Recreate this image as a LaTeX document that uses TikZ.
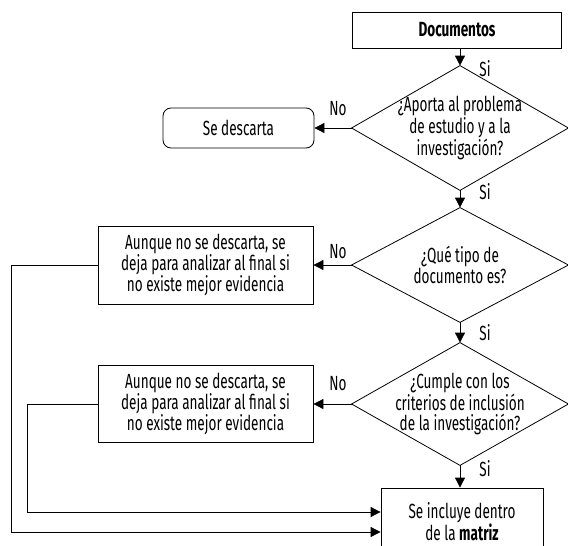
\documentclass[tikz,border=0pt]{standalone}
\usepackage{fontspec}
\setmainfont{Fira Sans}[FakeStretch=0.66]
\usepackage{tikz}
\usetikzlibrary{arrows.meta}
\tikzstyle{arrow} = [-{Triangle[length=10pt,width=10pt]}]
\tikzstyle{block} = [draw, rectangle, align=center, inner sep=0pt]
\tikzstyle{decision} = [rectangle, align=center, inner sep=0pt, minimum width=216pt]
\tikzstyle{lbl} = [inner sep=0pt]

\begin{document}
\begin{tikzpicture}[x=1pt, y=-1pt, line width=0.8pt, font=\fontsize{20.5}{19.5}\selectfont]
	\useasboundingbox (0,0) rectangle (568,546);
	\clip (0,0) rectangle (568,546);

	\node (doc) [block, minimum width=209pt, minimum height=36pt] at (457,30) {\textbf{Documentos}};
	\node (d1) [decision, minimum height=124pt, below of=doc, node distance=98pt, xshift=3pt] {¿Aporta al problema\\de estudio y a la\\investigación?};
	\node (desc) [block, rounded corners=8pt, minimum width=151pt, minimum height=40pt, left of=d1, node distance=221.5pt] {Se descarta};
	\node (d2) [decision, minimum height=114pt, below of=d1, node distance=137pt] {¿Qué tipo de\\documento es?};
	\node (b2) [block, minimum width=215pt, minimum height=78pt, left of=d2, node distance=254.5pt] {Aunque no se descarta, se\\deja para analizar al final si\\no existe mejor evidencia};
	\node (d3) [decision, minimum height=122pt, below of=d2, node distance=139pt] {¿Cumple con los\\criterios de inclusión\\de la investigación?};
	\node (b3) [block, minimum width=215pt, minimum height=77pt, left of=d3, node distance=254.5pt] {Aunque no se descarta, se\\deja para analizar al final si\\no existe mejor evidencia};
	\node (inc) [block, minimum width=162pt, minimum height=68pt, below of=d3, node distance=118pt, xshift=2pt] {Se incluye dentro\\de la \textbf{matriz}};

	\foreach \d in {d1,d2,d3}
		\draw (\d.north) -- (\d.east) -- (\d.south) -- (\d.west) -- cycle;

	\draw [arrow] (d1.north |- doc.south) -- node [lbl, pos=1.15, anchor=west, xshift=19pt] {Si} (d1.north);
	\draw [arrow] (d1.south) -- node [lbl, pos=0.1, anchor=west, xshift=19pt] {Si} (d2.north);
	\draw [arrow] (d2.south) -- node [lbl, pos=0.5, anchor=west, xshift=19pt] {Si} (d3.north);
	\draw [arrow] (d3.south) -- node [lbl, pos=0.15, anchor=west, xshift=19pt] {Si} (inc.north -| d3.south);

	\draw [arrow] (d1.west) -- node [lbl, pos=0.37, anchor=south, yshift=12pt] {No} (desc.east);
	\draw [arrow] (d2.west) -- node [lbl, pos=0.36, anchor=south, yshift=6pt] {No} (b2.east);
	\draw [arrow] (d3.west) -- node [lbl, pos=0.36, anchor=south, yshift=13pt] {No} (b3.east);

	\draw [arrow] (b2.west) -- ++(-86,0) |- ([yshift=-10pt]inc.west);
	\draw [arrow] (b3.west) -- ++(-70,0) |- ([yshift=10pt]inc.west);
\end{tikzpicture}
\end{document}
